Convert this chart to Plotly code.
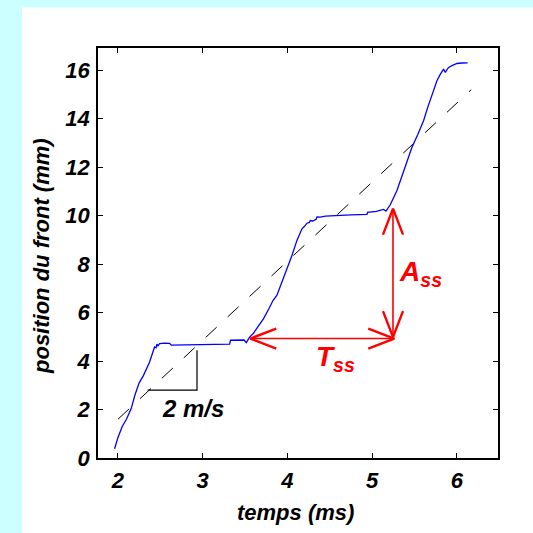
import plotly.graph_objects as go

# ---- data ----
t_ms = [1.96, 2.00, 2.05, 2.10, 2.157, 2.20, 2.25, 2.30, 2.373, 2.41, 2.432, 2.45, 2.46, 2.47,
        2.491, 2.55, 2.609, 2.629, 2.80, 3.00, 3.20, 3.318, 3.329, 3.40, 3.488, 3.515, 3.554,
        3.60, 3.65, 3.719, 3.78, 3.83, 3.877, 3.92, 3.975, 4.054, 4.113, 4.172, 4.20, 4.231,
        4.26, 4.27, 4.30, 4.34, 4.35, 4.388, 4.45, 4.586, 4.75, 4.94, 4.947, 5.05, 5.136,
        5.164, 5.215, 5.294, 5.333, 5.40, 5.471, 5.54, 5.608, 5.66, 5.707, 5.766, 5.80,
        5.825, 5.844, 5.864, 5.88, 5.903, 5.95, 6.002, 6.06, 6.128]
pos_mm = [0.38, 0.85, 1.30, 1.60, 2.05, 2.60, 3.10, 3.40, 3.96, 4.30, 4.58, 4.55, 4.70, 4.62,
          4.72, 4.74, 4.73, 4.66, 4.67, 4.68, 4.69, 4.70, 4.86, 4.86, 4.87, 4.76, 4.99,
          5.15, 5.40, 5.75, 6.15, 6.50, 6.72, 7.10, 7.61, 8.36, 8.98, 9.46, 9.55, 9.69,
          9.72, 9.80, 9.78, 9.85, 9.95, 9.94, 9.98, 10.01, 10.03, 10.05, 10.14, 10.18, 10.26,
          10.19, 10.45, 11.04, 11.44, 12.10, 12.82, 13.35, 13.92, 14.50, 15.01, 15.57, 15.80,
          15.98, 16.05, 15.91, 16.00, 16.12, 16.20, 16.28, 16.30, 16.31]

mean_t = [2.00, 6.171]
mean_pos = [1.60, 15.20]

tri_t = [2.35, 2.933, 2.933]
tri_pos = [2.80, 2.80, 4.45]

# arrows: (start, end) both with heads
tss_t = [3.562, 5.262]
tss_pos = [4.93, 4.93]
ass_t = [5.247, 5.247]
ass_pos = [4.99, 10.29]

x_ticks = [2, 3, 4, 5, 6]
y_ticks = [0, 2, 4, 6, 8, 10, 12, 14, 16]

XR = [1.764, 6.487]
YR = [0.0, 16.92]

# ---- layout geometry ----
W = H = 533
ML, MR, MT, MB = 98, 35, 48, 75
PW = W - ML - MR
PH = H - MT - MB
sx = PW / (XR[1] - XR[0])
sy = PH / (YR[1] - YR[0])

FONT = "Arial, 'Liberation Sans', Helvetica, sans-serif"
RED = "#ff0000"

fig = go.Figure()

fig.add_trace(go.Scatter(x=mean_t, y=mean_pos, mode="lines",
                         line=dict(color="black", width=1, dash="15px,15px"),
                         hoverinfo="skip", showlegend=False))
fig.add_trace(go.Scatter(x=t_ms, y=pos_mm, mode="lines",
                         line=dict(color="#0000ff", width=1.3),
                         showlegend=False))
fig.add_trace(go.Scatter(x=tri_t, y=tri_pos, mode="lines",
                         line=dict(color="black", width=1.2),
                         hoverinfo="skip", showlegend=False))


def heads(xs, ys, L=26, w=10):
    """open V arrowheads at both ends of a segment, computed in pixel space"""
    out_x, out_y = [], []
    for (xa, ya, xb, yb) in [(xs[0], ys[0], xs[1], ys[1]), (xs[1], ys[1], xs[0], ys[0])]:
        dx = (xa - xb) * sx
        dy = (ya - yb) * sy
        n = (dx * dx + dy * dy) ** 0.5
        ux, uy = dx / n, dy / n
        px, py = -uy, ux
        for s in (1, -1):
            bx = xa - (L * ux + s * w * px) / sx
            by = ya - (L * uy + s * w * py) / sy
            out_x += [bx, xa]
            out_y += [by, ya]
        out_x.append(None)
        out_y.append(None)
    return out_x, out_y


for ax_, ay_ in [(tss_t, tss_pos), (ass_t, ass_pos)]:
    fig.add_trace(go.Scatter(x=ax_, y=ay_, mode="lines",
                             line=dict(color=RED, width=1.6),
                             hoverinfo="skip", showlegend=False))
    hx, hy = heads(ax_, ay_)
    fig.add_trace(go.Scatter(x=hx, y=hy, mode="lines",
                             line=dict(color=RED, width=2.4),
                             hoverinfo="skip", showlegend=False))

ann = []
ann.append(dict(x=2.889, y=2.05, text="2 m/s", showarrow=False,
                font=dict(family=FONT, size=24, color="black", style="italic", weight="bold")))
ann.append(dict(x=4.318, y=4.10, text="T<sub>ss</sub>", showarrow=False,
                xanchor="left", yanchor="middle",
                font=dict(family=FONT, size=28, color=RED, style="italic", weight="bold")))
ann.append(dict(x=5.300, y=7.60, text="A<sub>ss</sub>", showarrow=False,
                xanchor="left", yanchor="middle",
                font=dict(family=FONT, size=28, color=RED, style="italic", weight="bold")))
# axis titles
ann.append(dict(xref="paper", yref="paper", x=(295 - ML) / PW, y=(MT + PH - 512) / PH,
                text="temps (ms)", showarrow=False, xanchor="center", yanchor="middle",
                font=dict(family=FONT, size=22, color="black", style="italic", weight="bold")))
ann.append(dict(xref="paper", yref="paper", x=(41 - ML) / PW, y=(MT + PH - 256) / PH,
                text="position du front (mm)", showarrow=False, textangle=-90,
                xanchor="center", yanchor="middle",
                font=dict(family=FONT, size=22, color="black", style="italic", weight="bold")))

shapes = [dict(type="rect", xref="paper", yref="paper", layer="below",
               x0=(22 - ML) / PW, x1=(W - ML) / PW,
               y0=(MT + PH - H) / PH, y1=(MT + PH - 7.5) / PH,
               fillcolor="white", line=dict(width=0))]

axis_common = dict(showgrid=False, zeroline=False, showline=True, linecolor="black",
                   linewidth=1.5, mirror="ticks", ticks="inside", ticklen=5,
                   tickwidth=1, tickcolor="black",
                   tickfont=dict(family=FONT, size=22, color="black",
                                 style="italic", weight="bold"))

fig.update_layout(
    width=W, height=H,
    margin=dict(l=ML, r=MR, t=MT, b=MB, pad=0),
    paper_bgcolor="#ccffff", plot_bgcolor="white",
    xaxis=dict(range=XR, tickvals=x_ticks, ticktext=[str(v) for v in x_ticks],
               ticklabelstandoff=2, **axis_common),
    yaxis=dict(range=YR, tickvals=y_ticks, ticktext=[str(v) for v in y_ticks],
               ticklabelstandoff=2, **axis_common),
    annotations=ann, shapes=shapes,
)

fig.write_html("out.html", config={"displayModeBar": False},
               post_script="document.body.style.margin='0';document.body.style.overflow='hidden';")
